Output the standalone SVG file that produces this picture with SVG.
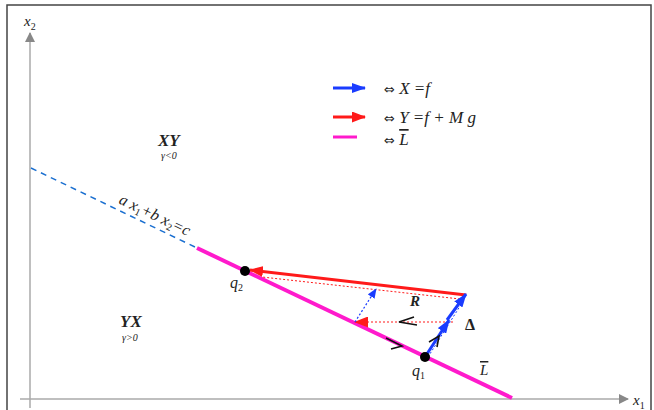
<svg xmlns="http://www.w3.org/2000/svg" width="654" height="410" viewBox="0 0 654 410">
<defs>
<style>
.axis{stroke:#aaa;stroke-width:1.5;fill:none}
.m{font-family:"Liberation Serif",serif;font-style:italic;fill:#222}
.s{font-family:"Liberation Serif",serif;fill:#222}
.b{font-family:"Liberation Serif",serif;font-style:italic;font-weight:bold;fill:#222}
.eq{font-family:"DejaVu Sans",sans-serif;font-style:normal;font-size:13px}
.chev{stroke:#111;stroke-width:1.6;fill:none}
</style>
<marker id="ag" markerWidth="10" markerHeight="10" refX="9" refY="5" orient="auto" markerUnits="userSpaceOnUse"><path d="M0,0 L10,5 L0,10 Z" fill="#888"/></marker>
<marker id="ab" markerWidth="14" markerHeight="10" refX="13" refY="5" orient="auto" markerUnits="userSpaceOnUse"><path d="M0,0 L14,5 L0,10 Z" fill="#1a3cff"/></marker>
<marker id="ar" markerWidth="14" markerHeight="11" refX="13" refY="5.5" orient="auto" markerUnits="userSpaceOnUse"><path d="M0,0 L14,5.5 L0,11 Z" fill="#ff1a1a"/></marker>
<marker id="abs" markerWidth="10" markerHeight="8" refX="9" refY="4" orient="auto" markerUnits="userSpaceOnUse"><path d="M0,0 L10,4 L0,8 Z" fill="#1a3cff"/></marker>
</defs>
<rect x="7" y="5" width="644" height="410" fill="#fff" stroke="#444" stroke-width="1.5"/>
<g id="axes">
<line class="axis" x1="30" y1="408" x2="30" y2="33" marker-end="url(#ag)"/>
<line class="axis" x1="20" y1="399" x2="628" y2="399" marker-end="url(#ag)"/>
<text class="m" x="24" y="26" font-size="15">x<tspan font-size="10" dy="4" font-style="normal">2</tspan></text>
<text class="m" x="633" y="405" font-size="15">x<tspan font-size="10" dy="4" font-style="normal">1</tspan></text>
</g>
<g id="regions">
<text class="b" x="158" y="146" font-size="17">XY</text>
<text class="m" x="161" y="159" font-size="10">γ&lt;0</text>
<text class="b" x="120" y="327" font-size="17">YX</text>
<text class="m" x="122" y="341" font-size="10">γ&gt;0</text>
</g>
<g id="legend">
<line x1="333" y1="88" x2="365" y2="88" stroke="#1a3cff" stroke-width="3" marker-end="url(#ab)"/>
<text class="m" x="384" y="94" font-size="17"><tspan class="eq">⇔</tspan> X =f</text>
<line x1="333" y1="117" x2="365" y2="117" stroke="#ff1a1a" stroke-width="3" marker-end="url(#ar)"/>
<text class="m" x="384" y="123" font-size="17"><tspan class="eq">⇔</tspan> Y =f + M g</text>
<line x1="333" y1="137" x2="357" y2="137" stroke="#ff1acc" stroke-width="3"/>
<text class="m" x="384" y="145" font-size="17"><tspan class="eq">⇔</tspan> <tspan text-decoration="overline">L</tspan></text>
</g>
<g id="line-L">
<line x1="31" y1="168" x2="197" y2="248" stroke="#1a6fd0" stroke-width="1.5" stroke-dasharray="6,5"/>
<line x1="197" y1="248" x2="512" y2="398" stroke="#ff1acc" stroke-width="4"/>
<text class="m" font-size="16" transform="translate(118,203) rotate(25.5)">a x<tspan font-size="10" dy="3" font-style="normal">1</tspan><tspan dy="-3">+b x</tspan><tspan font-size="10" dy="3" font-style="normal">2</tspan><tspan dy="-3">=c</tspan></text>
<text class="m" x="480" y="375" font-size="15"><tspan text-decoration="overline">L</tspan></text>
</g>
<g id="connectors">
<line x1="466" y1="295" x2="250" y2="270" stroke="#ff1a1a" stroke-width="3" marker-end="url(#ar)"/>
<line x1="460" y1="299" x2="262" y2="277" stroke="#ff1a1a" stroke-width="1" stroke-dasharray="2,2"/>
<line x1="453" y1="322" x2="355" y2="322" stroke="#ff1a1a" stroke-width="1.2" stroke-dasharray="2,2" marker-end="url(#ar)"/>
<line x1="355" y1="322" x2="376" y2="289" stroke="#1a3cff" stroke-width="1.2" stroke-dasharray="2,2" marker-end="url(#abs)"/>
<line x1="425" y1="357" x2="449" y2="320" stroke="#1a3cff" stroke-width="3" marker-end="url(#ab)"/>
<line x1="447" y1="320" x2="466" y2="294" stroke="#1a3cff" stroke-width="3" marker-end="url(#ab)"/>
<line x1="428" y1="357" x2="462" y2="303" stroke="#1a3cff" stroke-width="1" stroke-dasharray="2,2"/>
<path class="chev" d="M414,317 L399,322 L417,325"/>
<path class="chev" d="M386,338 L402,346 L391,349"/>
<path class="chev" d="M429,342 L439,336 L437,347"/>
</g>
<g id="labels">
<text class="b" x="410" y="306" font-size="15">R</text>
<text class="s" x="465" y="330" font-size="16" font-weight="bold">Δ</text>
</g>
<g id="q1"><circle cx="425" cy="357" r="5" fill="#000"/><text class="m" x="412" y="376" font-size="16">q<tspan font-size="10" dy="3" font-style="normal">1</tspan></text></g>
<g id="q2"><circle cx="245" cy="271" r="5" fill="#000"/><text class="m" x="230" y="288" font-size="16">q<tspan font-size="10" dy="3" font-style="normal">2</tspan></text></g>
</svg>
